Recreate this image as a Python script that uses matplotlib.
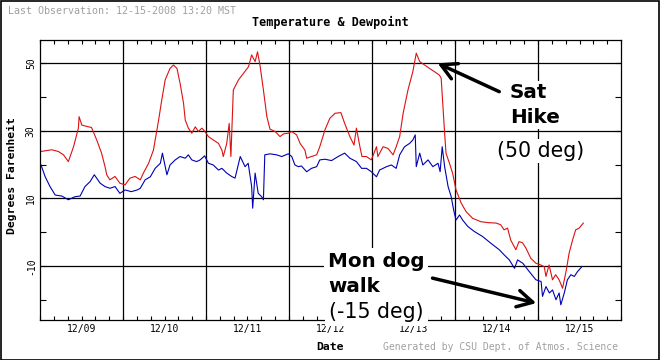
import matplotlib
matplotlib.use("Agg")
import matplotlib.pyplot as plt
from matplotlib.patches import Rectangle

# hours since 12/09 00:00 MST
temp_hours = [0.3, 3.4, 5.3, 6.8, 8.2, 9.7, 11.1, 11.3, 12.1, 14.0, 14.9, 16.4, 17.8, 18.8, 19.3,
              20.2, 21.7, 23.1, 24.6, 26.0, 27.5, 29.0, 29.9, 31.4, 32.8, 33.8, 34.3, 35.2, 36.2,
              37.6, 38.6, 39.6, 40.5, 41.5, 42.0, 42.9, 43.9, 44.9, 45.8, 46.8, 47.7, 48.7, 50.1,
              51.6, 52.6, 53.0, 54.0, 54.7, 55.2, 55.9, 57.4, 58.8, 60.3, 61.2, 62.2, 62.9, 63.6,
              64.6, 65.6, 66.5, 68.0, 69.4, 70.4, 71.8, 72.8, 74.2, 75.2, 76.6, 77.1, 78.5, 80.0,
              80.9, 82.4, 83.8, 85.3, 87.0, 88.1, 89.6, 90.8, 91.5, 92.5, 93.1, 94.4, 95.8, 97.3,
              97.7, 99.2, 100.6, 102.1, 103.0, 104.0, 105.0, 106.4, 107.8, 108.8, 109.8, 111.2,
              112.6, 114.1, 115.5, 116.0, 116.5, 117.0, 117.4, 118.4, 119.3, 120.3, 121.8, 123.2,
              125.1, 127.5, 129.9, 131.9, 133.2, 134.2, 135.2, 136.1, 137.6, 138.5, 139.5, 140.5,
              141.9, 143.4, 144.8, 145.8, 146.3, 147.2, 148.2, 149.1, 150.1, 151.1, 152.1, 153.0,
              154.0, 154.9, 155.9, 157.1]
temp_f = [23.9, 24.4, 23.9, 22.9, 20.9, 25.3, 30.8, 34.2, 31.7, 31.2, 31.0, 27.3, 23.4, 19.4, 17.0,
          15.5, 16.5, 14.5, 14.0, 16.0, 16.5, 15.5, 17.5, 20.4, 24.3, 30.3, 33.2, 39.1, 45.1,
          48.5, 49.5, 48.5, 44.1, 38.2, 33.2, 30.8, 29.3, 31.2, 29.8, 30.8, 29.8, 28.3, 27.3,
          26.3, 24.3, 22.4, 26.3, 32.2, 22.4, 42.1, 45.1, 47.0, 49.0, 52.5, 50.5, 53.4, 49.5,
          42.1, 34.2, 30.5, 29.8, 28.3, 29.1, 29.3, 29.8, 28.8, 26.3, 24.3, 21.9, 22.4, 22.9,
          25.3, 30.3, 33.7, 35.2, 35.4, 32.2, 28.3, 25.8, 30.8, 25.3, 22.4, 22.4, 21.4, 25.3,
          22.4, 25.3, 24.8, 22.9, 25.3, 28.3, 35.2, 42.1, 47.5, 53.0, 50.5, 49.5,
          48.5, 47.5, 46.5, 45.6, 37.2, 29.3, 23.4, 20.4, 17.5, 12.5, 8.6, 6.1,
          4.1, 3.1, 2.8, 2.7, 2.2, 0.7, 1.2, -2.3, -5.2, -2.8, -3.1, -4.7,
          -7.7, -9.2, -9.7, -10.2, -13.1, -9.7, -14.1, -12.6, -14.1, -16.6, -11.7, -6.2,
          -2.3, 0.7, 1.2, 2.7]

dew_hours = [0.3, 1.5, 2.9, 4.4, 6.3, 8.2, 10.1, 11.6, 13.0, 14.5, 15.7, 17.4, 18.8, 20.2, 21.7,
             23.1, 24.6, 26.4, 28.1, 29.0, 30.4, 31.9, 33.3, 34.8, 35.4, 36.7, 37.6, 39.1, 40.5,
             42.0, 42.9, 43.9, 45.3, 46.3, 47.6, 48.7, 50.1, 51.6, 52.6, 54.0, 55.4, 56.4, 57.9,
             59.3, 60.2, 61.2, 61.5, 62.2, 63.1, 64.1, 64.6, 65.0, 66.5, 68.4, 69.9, 71.8, 72.8,
             73.7, 74.7, 75.6, 77.1, 78.5, 80.0, 80.9, 82.4, 84.3, 86.2, 88.1, 89.6, 91.5, 93.0,
             94.4, 95.8, 97.3, 98.2, 100.2, 101.6, 103.0, 104.0, 105.4, 106.9, 107.8, 108.5,
             108.8, 109.8, 110.7, 112.2, 113.6, 115.1, 115.7, 116.3, 117.0, 118.0, 118.9, 119.6,
             120.3, 121.3, 122.2, 123.7, 125.6, 128.0, 130.4, 132.8, 134.2, 135.7, 137.2, 138.1,
             139.6, 141.5, 143.4, 144.9, 145.3, 146.3, 147.3, 148.2, 149.2, 150.1, 150.6, 151.6,
             152.5, 153.5, 154.5, 155.4, 156.7]
dew_f = [19.9, 16.4, 13.5, 11.0, 10.7, 9.6, 10.5, 10.7, 13.5, 15.0, 17.0, 14.5, 13.5, 13.0, 13.5,
         11.5, 12.5, 12.0, 12.5, 13.0, 15.5, 16.4, 18.9, 20.4, 23.4, 17.0, 19.9, 21.4, 22.4,
         21.9, 22.9, 21.4, 20.9, 21.4, 22.6, 20.4, 19.9, 18.4, 18.9, 17.5, 16.5, 16.0, 22.4,
         19.4, 20.4, 13.5, 7.1, 17.5, 11.5, 10.5, 9.6, 22.9, 23.2, 22.9, 22.4, 23.2, 22.4,
         19.9, 19.4, 19.6, 17.9, 18.9, 19.4, 21.4, 21.6, 21.2, 22.4, 23.4, 21.9, 20.9, 18.9,
         18.9, 17.9, 16.4, 18.4, 19.4, 19.9, 18.9, 22.9, 25.3, 26.3, 27.3, 28.8,
         19.4, 23.4, 19.9, 21.4, 19.4, 20.4, 17.9, 25.3, 19.4, 13.5, 10.5, 6.6,
         3.6, 5.1, 3.6, 1.7, 0.2, -1.3, -3.3, -5.2, -6.7, -8.2, -10.7, -8.2,
         -9.2, -11.7, -14.1, -14.6, -19.0, -16.1, -18.0, -17.1, -20.0, -18.0, -21.5, -18.0,
         -14.1, -12.6, -13.1, -11.7, -10.2]

day_labels = ["12/09", "12/10", "12/11", "12/12", "12/13", "12/14", "12/15"]
y_major = [50, 30, 10, -10]
y_minor = [40, 20, 0, -20]

W, H = 660, 360
fig = plt.figure(figsize=(6.6, 3.6), dpi=100)
ax = fig.add_axes([40 / W, 40 / H, 581 / W, 280 / H])

ndays = len(day_labels)
ax.set_xlim(0, 24 * ndays)
ax.set_ylim(-26, 56.9)

for d in range(1, ndays):
    ax.axvline(24 * d, color="black", lw=0.9, zorder=1)
for v in y_major:
    ax.axhline(v, color="black", lw=0.9, zorder=1)

ax.plot(temp_hours, temp_f, color="#dd1111", lw=0.8, zorder=2)
ax.plot(dew_hours, dew_f, color="#0000b4", lw=0.8, zorder=2)

mono = "DejaVu Sans Mono"
ax.set_xticks([24 * i + 12 for i in range(ndays)], labels=day_labels)
ax.set_xticks(range(0, 24 * ndays + 1, 4), minor=True)
ax.tick_params(axis="x", which="both", direction="in", top=True, bottom=True,
               length=3, width=0.8, pad=3, labelsize=7)
ax.set_yticks(y_major, labels=[str(v) for v in y_major])
ax.set_yticks(y_minor, minor=True)
ax.tick_params(axis="y", which="both", direction="in", left=True, right=True,
               length=4, width=0.8, pad=3, labelsize=7)
for lab in ax.get_xticklabels():
    lab.set_fontfamily(mono)
for lab in ax.get_yticklabels():
    lab.set_fontfamily(mono)
    lab.set_rotation(90)
    lab.set_va("center")
for s in ax.spines.values():
    s.set_linewidth(0.9)

def fx(px):
    return px / W

def fy(py):
    return 1 - py / H

fig.text(fx(8), fy(11), "Last Observation: 12-15-2008 13:20 MST", family=mono, fontsize=7.2,
         color="#a0a0a0", ha="left", va="center")
fig.text(fx(330), fy(22), "Temperature & Dewpoint", family=mono, fontsize=8.5,
         fontweight="bold", ha="center", va="center")
fig.text(fx(12), fy(176), "Degrees Farenheit", family=mono, fontsize=8.2, fontweight="bold",
         rotation=90, ha="center", va="center")
fig.text(fx(330), fy(347), "Date", family=mono, fontsize=8.2, fontweight="bold",
         ha="center", va="center")
fig.text(fx(618), fy(347), "Generated by CSU Dept. of Atmos. Science", family=mono,
         fontsize=7, color="#a0a0a0", ha="right", va="center")

box_s = dict(facecolor="white", edgecolor="none", pad=1.5)
box_m = dict(facecolor="white", edgecolor="none", pad=2.8)
fig.text(fx(510), fy(122.7), "Sat\nHike", fontsize=14.3, fontweight="bold", ha="left",
         va="baseline", linespacing=1.4, bbox=box_s, zorder=3)
fig.text(fx(497), fy(157.3), "(50 deg)", fontsize=14.8, ha="left", va="baseline",
         bbox=box_s, zorder=3)
fig.text(fx(328), fy(291.7), "Mon dog\nwalk", fontsize=14.3, fontweight="bold", ha="left",
         va="baseline", linespacing=1.4, bbox=box_m, zorder=3)
fig.text(fx(329), fy(318), "(-15 deg)", fontsize=14.8, ha="left", va="baseline",
         bbox=box_m, zorder=3)

arrow = dict(arrowstyle="->,head_length=1.1,head_width=0.6", lw=2.5, color="black",
             shrinkA=0, shrinkB=0, mutation_scale=10)
ax.annotate("", xy=(115.0, 50.0), xytext=(132.8, 41.6), arrowprops=arrow, zorder=4,
            annotation_clip=False)
ax.annotate("", xy=(143.5, -21.0), xytext=(113.5, -13.6), arrowprops=arrow, zorder=4,
            annotation_clip=False)

fig.add_artist(Rectangle((0.5 / W, 0.5 / H), 1 - 1.5 / W, 1 - 1.5 / H, transform=fig.transFigure,
                         fill=False, edgecolor="black", lw=1.2))

fig.savefig("out.png", dpi=100)
